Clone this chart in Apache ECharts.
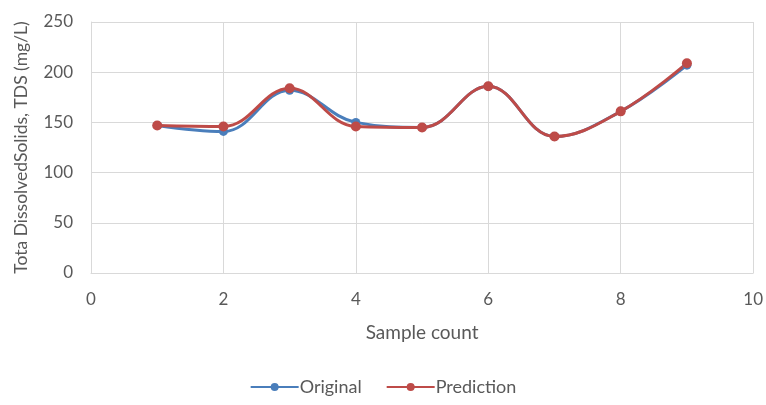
<!DOCTYPE html>
<html>
<head>
<meta charset="utf-8">
<script src="https://cdn.jsdelivr.net/npm/echarts@6/dist/echarts.min.js"></script>
<style>html,body{margin:0;padding:0;background:#fff;}#c{width:766px;height:405px;}</style>
</head>
<body>
<div id="c"></div>
<script>
const xValues = [1, 2, 3, 4, 5, 6, 7, 8, 9];
const original = [147, 141, 182, 150, 145, 186, 136, 161, 207];
const prediction = [147, 146, 184, 146, 145, 186, 136, 161, 209];
const seriesNames = ['Original', 'Prediction'];
const xTitle = 'Sample count';
const yTitle = 'Tota DissolvedSolids, TDS (mg/L)';

const font = 'Lato, "Open Sans", sans-serif';
const txt = '#595959';
const chart = echarts.init(document.getElementById('c'));
const pairs = arr => xValues.map((x, i) => [x, arr[i]]);
chart.setOption({
  animation: false,
  textStyle: { fontFamily: font },
  grid: { left: 91, right: 10, top: 22, bottom: 132, containLabel: false },
  legend: {
    bottom: 4, left: 'center',
    itemWidth: 48, itemHeight: 10, itemGap: 24,
    textStyle: { color: txt, fontSize: 18, fontFamily: font, padding: [0, 0, 0, -4] },
    data: seriesNames
  },
  xAxis: {
    type: 'value', min: 0, max: 10, interval: 2,
    name: xTitle, nameLocation: 'middle', nameGap: 50,
    nameTextStyle: { color: txt, fontSize: 19, fontFamily: font },
    axisLine: { show: true, lineStyle: { color: '#d9d9d9' } },
    axisTick: { show: false },
    axisLabel: { color: txt, fontSize: 17, margin: 18 },
    splitLine: { show: true, lineStyle: { color: '#d9d9d9' } }
  },
  yAxis: {
    type: 'value', min: 0, max: 250, interval: 50,
    name: yTitle, nameLocation: 'middle', nameGap: 61, nameRotate: 90,
    nameTextStyle: { color: txt, fontSize: 17.5, fontFamily: font },
    axisLine: { show: true, lineStyle: { color: '#d9d9d9' } },
    axisTick: { show: false },
    axisLabel: { color: txt, fontSize: 17, margin: 18 },
    splitLine: { show: true, lineStyle: { color: '#d9d9d9' } }
  },
  series: [
    {
      name: seriesNames[0], type: 'line', smooth: 0.4,
      data: pairs(original),
      symbol: 'circle', symbolSize: 9,
      lineStyle: { color: '#4A7EBB', width: 3 },
      itemStyle: { color: '#4A7EBB' }
    },
    {
      name: seriesNames[1], type: 'line', smooth: 0.4,
      data: pairs(prediction),
      symbol: 'circle', symbolSize: 10,
      lineStyle: { color: '#BE4B48', width: 3 },
      itemStyle: { color: '#BE4B48' }
    }
  ]
});
</script>
</body>
</html>
